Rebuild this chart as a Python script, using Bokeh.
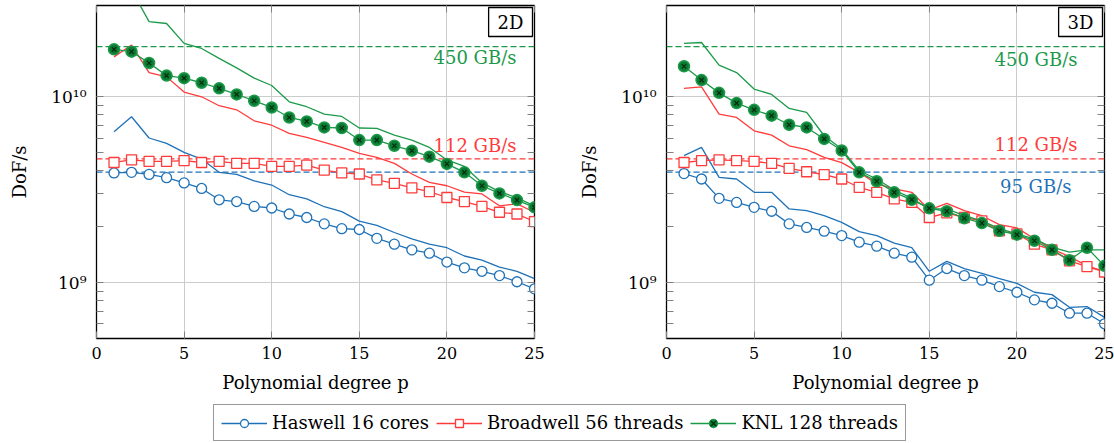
from bokeh.plotting import figure
from bokeh.models import (Range1d, FixedTicker, CustomJSTickFormatter, LogAxis, LinearAxis,
                          Span, Label, Legend, LegendItem)
from bokeh.layouts import column, row
from bokeh.embed import file_html
from bokeh.resources import INLINE

# ---------------- data ----------------
degrees = list(range(1, 26))
x_ticks = [0, 5, 10, 15, 20, 25]
y_major = [1e9, 1e10]
y_minor = [6e8, 7e8, 8e8, 9e8, 2e9, 3e9, 4e9, 5e9, 6e9, 7e9, 8e9, 9e9]

series_names = ["Haswell 16 cores", "Broadwell 56 threads", "KNL 128 threads"]
roof_values = [1.86e10, 4.63e9, 3.93e9]
roof_labels = ["450 GB/s", "112 GB/s", "95 GB/s"]
panel_titles = ["2D", "3D"]

# 2D
hsw2d_mk = [3.89, 3.92, 3.82, 3.67, 3.44, 3.21, 2.79, 2.73, 2.57, 2.52, 2.34, 2.24, 2.07,
            1.95, 1.93, 1.73, 1.61, 1.50, 1.44, 1.29, 1.20, 1.15, 1.09, 1.01, 0.925]
hsw2d_ln = [6.48, 7.81, 6.00, 5.61, 5.02, 4.62, 3.92, 3.82, 3.53, 3.35, 2.97, 2.82, 2.56,
            2.41, 2.14, 2.03, 1.86, 1.72, 1.61, 1.54, 1.39, 1.32, 1.21, 1.15, 1.05]
bdw2d_mk = [4.43, 4.58, 4.49, 4.49, 4.53, 4.43, 4.49, 4.38, 4.38, 4.22, 4.22, 4.29, 4.03,
            3.89, 3.84, 3.57, 3.42, 3.23, 3.09, 2.87, 2.73, 2.57, 2.39, 2.34, 2.13]
bdw2d_ln = [16.4, 19.0, 13.5, 12.8, 10.6, 10.0, 8.95, 8.51, 7.43, 7.03, 6.36, 6.04, 5.68,
            5.34, 4.96, 4.72, 4.38, 3.84, 3.46, 3.32, 3.07, 3.00, 2.59, 2.65, 2.39]
knl2d_mk = [18.0, 17.5, 15.2, 13.0, 12.6, 11.9, 11.1, 10.3, 9.52, 8.76, 7.74, 7.37, 6.84,
            6.79, 5.85, 5.85, 5.45, 5.13, 4.76, 4.35, 3.92, 3.32, 3.02, 2.78, 2.54]
knl2d_ln = [35.0, 37.6, 25.4, 24.8, 19.4, 18.2, 16.1, 14.3, 12.6, 11.5, 9.40, 8.84, 8.07,
            7.84, 6.79, 6.76, 6.22, 5.85, 5.34, 4.57, 4.22, 3.45, 3.09, 2.86, 2.59]
# 3D
hsw3d_mk = [3.86, 3.61, 2.84, 2.70, 2.54, 2.42, 2.07, 1.98, 1.89, 1.79, 1.65, 1.57, 1.44,
            1.37, 1.03, 1.19, 1.09, 1.03, 0.951, 0.887, 0.807, 0.774, 0.684, 0.684, 0.600]
hsw3d_ln = [4.82, 5.34, 3.68, 3.61, 3.06, 3.06, 2.49, 2.44, 2.29, 2.11, 1.88, 1.79, 1.63,
            1.54, 1.15, 1.30, 1.19, 1.12, 1.05, 0.991, 0.887, 0.861, 0.736, 0.743, 0.650]
bdw3d_mk = [4.43, 4.53, 4.58, 4.53, 4.49, 4.38, 4.12, 3.95, 3.81, 3.61, 3.25, 3.06, 2.82,
            2.70, 2.24, 2.37, 2.24, 2.15, 1.90, 1.83, 1.61, 1.50, 1.31, 1.22, 1.14]
bdw3d_ln = [11.1, 11.3, 8.07, 7.74, 6.56, 6.22, 5.45, 5.19, 4.72, 4.42, 3.92, 3.40, 3.19,
            3.06, 2.46, 2.67, 2.44, 2.29, 2.05, 1.97, 1.72, 1.52, 1.38, 1.23, 1.15]
knl3d_mk = [14.6, 12.3, 10.5, 9.25, 8.51, 7.91, 7.07, 6.84, 5.93, 5.14, 3.92, 3.51, 3.06,
            2.79, 2.51, 2.42, 2.22, 2.09, 1.90, 1.81, 1.68, 1.50, 1.32, 1.54, 1.23]
knl3d_ln = [19.4, 19.6, 14.8, 13.5, 11.0, 10.3, 8.65, 8.24, 6.17, 5.23, 4.00, 3.61, 3.15,
            2.84, 2.49, 2.49, 2.29, 2.15, 1.95, 1.83, 1.72, 1.55, 1.46, 1.50, 1.50]

SCALE = 1e9  # values above are in units of 1e9 DoF/s

# ---------------- style ----------------
FONT = "DejaVu Serif"
BLUE = "#1f72b8"
RED = "#ff3b3b"
GREEN = "#1c9a4a"
KNL_FILL = "#0c7a33"
KNL_X = "#03300f"
GRID = "#cccccc"
TICK = "#808080"

sup_code = """
const s = {"0":"\u2070","1":"\u00b9","2":"\u00b2","3":"\u00b3","4":"\u2074",
           "5":"\u2075","6":"\u2076","7":"\u2077","8":"\u2078","9":"\u2079","-":"\u207b"};
const e = Math.round(Math.log10(tick));
return "10" + String(e).split("").map(c => s[c]).join("");
"""


def sc(vals):
    return [v * SCALE for v in vals]


def make_panel(title, width, right_border, data, label_idx, label_offsets):
    hsw_mk, hsw_ln, bdw_mk, bdw_ln, knl_mk, knl_ln = data
    p = figure(width=width, height=400, y_axis_type="log",
               x_range=Range1d(0, 25), y_range=Range1d(5e8, 3.1e10),
               output_backend="svg", toolbar_location=None,
               min_border_left=96, min_border_right=right_border,
               min_border_top=5, min_border_bottom=62)
    p.background_fill_color = "white"
    p.border_fill_color = "white"
    p.outline_line_color = "black"
    p.outline_line_width = 1.3

    xt = FixedTicker(ticks=x_ticks)
    yt = FixedTicker(ticks=y_major, minor_ticks=y_minor)

    xa = p.xaxis[0]
    xa.ticker = xt
    xa.axis_label = "Polynomial degree p"
    ya = p.yaxis[0]
    ya.ticker = yt
    ya.formatter = CustomJSTickFormatter(code=sup_code)
    ya.axis_label = "DoF/s"
    for ax in (xa, ya):
        ax.axis_line_color = None
        ax.major_tick_in = 7
        ax.major_tick_out = 0
        ax.minor_tick_in = 7
        ax.minor_tick_out = 0
        ax.major_tick_line_color = TICK
        ax.minor_tick_line_color = TICK
        ax.major_label_text_font = FONT
        ax.major_label_text_font_size = "16px"
        ax.major_label_text_color = "black"
        ax.axis_label_text_font = FONT
        ax.axis_label_text_font_size = "18px"
        ax.axis_label_text_font_style = "normal"
        ax.axis_label_text_color = "black"
    ya.major_label_text_font_size = "17px"
    xa.major_label_standoff = 8
    xa.axis_label_standoff = 10
    ya.major_label_standoff = 10
    ya.axis_label_standoff = 18

    blank = CustomJSTickFormatter(code="return '';")
    top = LinearAxis(ticker=xt, formatter=blank, axis_line_color=None,
                     major_tick_in=7, major_tick_out=0, minor_tick_in=0, minor_tick_out=0,
                     major_tick_line_color=TICK, major_label_standoff=0,
                     major_label_text_font_size="0px")
    p.add_layout(top, "above")
    right = LogAxis(ticker=yt, formatter=blank, axis_line_color=None,
                    major_tick_in=7, major_tick_out=0, minor_tick_in=7, minor_tick_out=0,
                    major_tick_line_color=TICK, minor_tick_line_color=TICK,
                    major_label_standoff=0, major_label_text_font_size="0px")
    p.add_layout(right, "right")

    p.xgrid.ticker = xt
    p.ygrid.ticker = yt
    p.xgrid.grid_line_color = GRID
    p.ygrid.grid_line_color = GRID
    p.xgrid.grid_line_width = 1
    p.ygrid.grid_line_width = 1

    # roofline dashed lines
    roof_colors = [GREEN, RED, BLUE]
    for val, col in zip(roof_values, roof_colors):
        s = Span(location=val, dimension="width", line_color=col, line_dash="6 3",
                 line_width=1.3, level="underlay")
        p.add_layout(s)
    for i in label_idx:
        xo, yo = label_offsets[i]
        p.add_layout(Label(x=25, y=roof_values[i], x_offset=xo, y_offset=yo,
                           text=roof_labels[i], text_align="right", text_baseline="middle",
                           text_font=FONT, text_font_size="18px", text_color=roof_colors[i]))

    # Haswell
    p.line(degrees, sc(hsw_ln), line_color=BLUE, line_width=1.3)
    p.line(degrees, sc(hsw_mk), line_color=BLUE, line_width=1.3)
    p.scatter(degrees, sc(hsw_mk), marker="circle", size=10, line_color=BLUE,
              line_width=1.3, fill_color="white")
    # Broadwell
    p.line(degrees, sc(bdw_ln), line_color=RED, line_width=1.3)
    p.line(degrees, sc(bdw_mk), line_color=RED, line_width=1.3)
    p.scatter(degrees, sc(bdw_mk), marker="square", size=10, line_color=RED,
              line_width=1.3, fill_color="white")
    # KNL
    p.line(degrees, sc(knl_ln), line_color=GREEN, line_width=1.3)
    p.line(degrees, sc(knl_mk), line_color=GREEN, line_width=1.3)
    p.scatter(degrees, sc(knl_mk), marker="circle", size=11, line_color=GREEN,
              line_width=1.5, fill_color=KNL_FILL)
    p.scatter(degrees, sc(knl_mk), marker="x", size=6, line_color=KNL_X, line_width=1.3)

    p.add_layout(Label(x=25, y=3.1e10, x_offset=-2, y_offset=-2, text=title,
                       text_align="right", text_baseline="top",
                       text_font=FONT, text_font_size="18px", text_color="black",
                       border_line_color="black", border_line_width=1.3,
                       background_fill_color="white",
                       padding=dict(left=9, right=9, top=4, bottom=4)))
    return p


p1 = make_panel(panel_titles[0], 570, 36,
                (hsw2d_mk, hsw2d_ln, bdw2d_mk, bdw2d_ln, knl2d_mk, knl2d_ln),
                [0, 1], {0: (-18, -11), 1: (-18, 13)})
p2 = make_panel(panel_titles[1], 544, 10,
                (hsw3d_mk, hsw3d_ln, bdw3d_mk, bdw3d_ln, knl3d_mk, knl3d_ln),
                [0, 1, 2], {0: (-27, -13), 1: (-27, 14), 2: (-33, -14)})

# legend strip (renderers hold one off-screen point so the legend can draw their glyphs)
lf = figure(width=1114, height=43, x_range=Range1d(0, 1), y_range=Range1d(0, 1),
            output_backend="svg", toolbar_location=None, min_border=0,
            x_axis_location=None, y_axis_location=None)
lf.grid.visible = False
lf.outline_line_color = None
off_x = [-10, -9]
off_y = [-10, -9]
rh1 = lf.line(off_x, off_y, line_color=BLUE, line_width=1.3)
rh2 = lf.scatter(off_x, off_y, marker="circle", size=10, line_color=BLUE, line_width=1.3,
                 fill_color="white")
rb1 = lf.line(off_x, off_y, line_color=RED, line_width=1.3)
rb2 = lf.scatter(off_x, off_y, marker="square", size=10, line_color=RED, line_width=1.3,
                 fill_color="white")
rk1 = lf.line(off_x, off_y, line_color=GREEN, line_width=1.3)
rk2 = lf.scatter(off_x, off_y, marker="circle", size=11, line_color=GREEN, line_width=1.5,
                 fill_color=KNL_FILL)
rk3 = lf.scatter(off_x, off_y, marker="x", size=6, line_color=KNL_X, line_width=1.3)
legend = Legend(items=[LegendItem(label=series_names[0], renderers=[rh1, rh2]),
                       LegendItem(label=series_names[1], renderers=[rb1, rb2]),
                       LegendItem(label=series_names[2], renderers=[rk1, rk2, rk3])],
                orientation="horizontal", location=(213, 2), glyph_width=46,
                glyph_height=20, label_standoff=5, spacing=7, padding=7, margin=0,
                border_line_color="#333333", border_line_width=1,
                label_text_font=FONT, label_text_font_size="18px",
                label_text_color="black")
lf.add_layout(legend)

layout = column(row(p1, p2), lf)
open("out.html", "w").write(file_html(layout, INLINE))
